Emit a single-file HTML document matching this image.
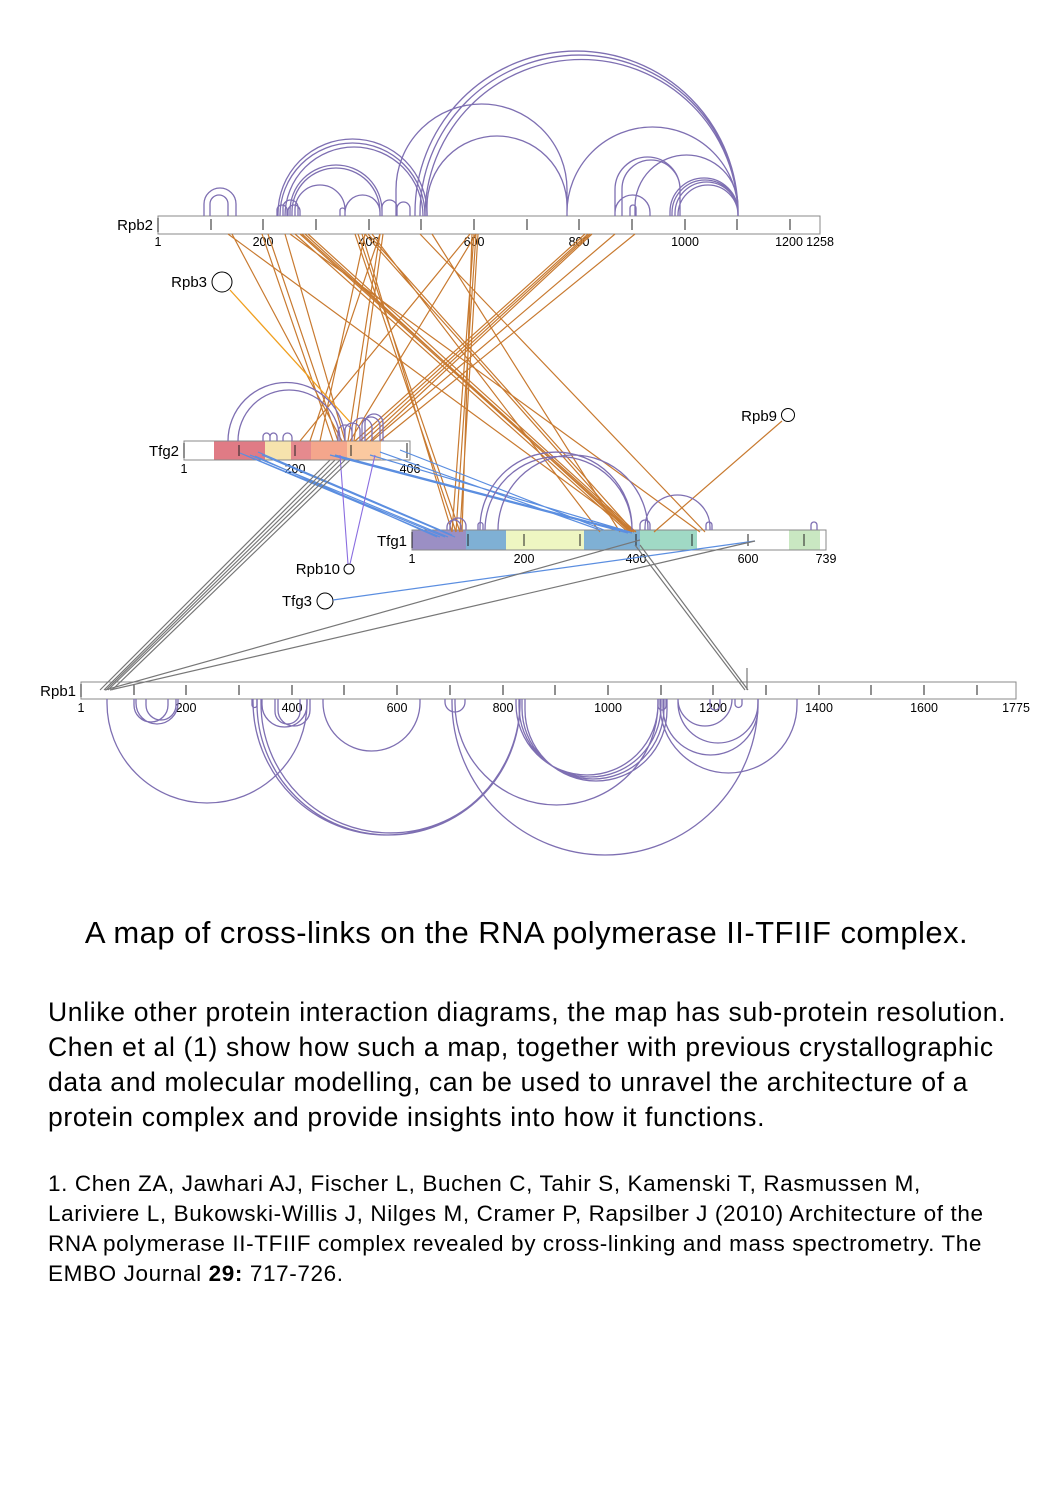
<!DOCTYPE html>
<html><head><meta charset="utf-8"><style>
html,body{margin:0;padding:0;background:#fff}
body{width:1053px;height:1489px;position:relative;font-family:"Liberation Sans",sans-serif;overflow:hidden}
svg{position:absolute;left:0;top:0}
.t{position:absolute;white-space:nowrap;color:#000}
</style></head><body>
<svg width="1053" height="900" viewBox="0 0 1053 900" font-family="Liberation Sans, sans-serif">
<rect x="158" y="216" width="662" height="18" fill="#fff" stroke="#888"/>
<rect x="214" y="441" width="51" height="19" fill="#e07b85"/>
<rect x="265" y="441" width="26" height="19" fill="#f6e3ad"/>
<rect x="291" y="441" width="20" height="19" fill="#e58a8e"/>
<rect x="311" y="441" width="36" height="19" fill="#f4a68c"/>
<rect x="347" y="441" width="34" height="19" fill="#fbc9a0"/>
<rect x="184" y="441" width="226" height="19" fill="none" stroke="#888"/>
<rect x="412" y="530" width="54" height="20" fill="#9b8fc4"/>
<rect x="466" y="530" width="40" height="20" fill="#7fb0d4"/>
<rect x="506" y="530" width="78" height="20" fill="#eef6c2"/>
<rect x="584" y="530" width="56" height="20" fill="#7fb0d4"/>
<rect x="640" y="530" width="57" height="20" fill="#a0d9c5"/>
<rect x="789" y="530" width="31" height="20" fill="#c9e8c2"/>
<rect x="412" y="530" width="414" height="20" fill="none" stroke="#888"/>
<rect x="81" y="682" width="935" height="17" fill="#fff" stroke="#888"/>
<g stroke="#222" stroke-width="1">
<path d="M158 218V232M211 219V230M263 219V230M316 219V230M369 219V230M421 219V230M474 219V230M527 219V230M579 219V230M632 219V230M685 219V230M737 219V230M790 219V230"/>
<path d="M184 443V458M239 445V456M295 445V456M351 445V456M407 443V458"/>
<path d="M412 532V548M468 534V546M524 534V546M580 534V546M636 534V546M692 534V546M748 534V546M804 534V546"/>
<path d="M81 684V697M134 685V695M186 685V695M239 685V695M292 685V695M344 685V695M397 685V695M450 685V695M503 685V695M555 685V695M608 685V695M661 685V695M713 685V695M766 685V695M819 685V695M871 685V695M924 685V695M977 685V695"/>
</g>
<g font-size="12.5" fill="#000" text-anchor="middle">
<text x="158" y="246">1</text><text x="263" y="246">200</text><text x="369" y="246">400</text><text x="474" y="246">600</text><text x="579" y="246">800</text><text x="685" y="246">1000</text><text x="789" y="246">1200</text><text x="820" y="246">1258</text>
<text x="184" y="473">1</text><text x="295" y="473">200</text><text x="410" y="473">406</text>
<text x="412" y="563">1</text><text x="524" y="563">200</text><text x="636" y="563">400</text><text x="748" y="563">600</text><text x="826" y="563">739</text>
<text x="81" y="712">1</text><text x="186" y="712">200</text><text x="292" y="712">400</text><text x="397" y="712">600</text><text x="503" y="712">800</text><text x="608" y="712">1000</text><text x="713" y="712">1200</text><text x="819" y="712">1400</text><text x="924" y="712">1600</text><text x="1016" y="712">1775</text>
</g>
<g font-size="15" fill="#000" text-anchor="end">
<text x="153" y="230">Rpb2</text><text x="179" y="456">Tfg2</text><text x="407" y="546">Tfg1</text><text x="76" y="696">Rpb1</text>
<text x="207" y="287">Rpb3</text><text x="777" y="421">Rpb9</text><text x="340" y="574">Rpb10</text><text x="312" y="606">Tfg3</text>
</g>
<g fill="#fff" stroke="#000">
<circle cx="222" cy="282" r="10"/><circle cx="788" cy="415" r="6.5"/><circle cx="349" cy="569" r="5"/><circle cx="325" cy="601" r="8"/>
</g>
<g stroke="#c87a30" stroke-width="1.2" fill="none">
<path d="M228 234L634 532M232 234L342 441M262 234L333 441M268 234L338 441M285 234L345 441"/>
<path d="M295 234L628 532M300 234L632 532M302 234L634 532M305 234L630 532M308 234L636 532M290 234L700 532"/>
<path d="M355 234L456 532M358 234L460 532M362 234L452 532M365 234L630 532M368 234L634 532M372 234L600 532"/>
<path d="M380 234L348 441M383 234L354 441M420 234L705 532M432 234L620 532"/>
<path d="M474 234L452 532M476 234L456 532M478 234L460 532M472 234L462 532M476 234L350 441M470 234L300 441"/>
<path d="M585 234L355 441M588 234L360 441M590 234L365 441M592 234L370 441M615 234L372 441M635 234L380 441"/>
<path d="M380 234L310 441M365 234L320 441"/>
<path d="M782 421L654 532"/>
</g>
<path d="M230 290L350 422" stroke="#f0a020" stroke-width="1.3"/>
<g stroke="#5b8ee0" stroke-width="1.2" fill="none">
<path d="M240 453L440 537M245 455L445 537M250 455L448 537M258 452L452 535M262 455L455 537M255 456L437 537"/>
<path d="M330 455L628 533M335 455L632 533M370 455L630 532M400 450L604 530M380 452L600 530"/>
<path d="M333 600L755 541"/>
</g>
<g stroke="#8a6de0" stroke-width="1.1" fill="none"><path d="M340 455L348 564M375 455L350 564"/></g>
<g stroke="#777" stroke-width="1.2" fill="none">
<path d="M330 460L100 690M335 460L104 690M340 460L106 690M345 460L108 690M350 460L112 690"/>
<path d="M640 540L105 690M755 541L110 690M635 545L745 690M640 545L748 690M747 668V690"/>
</g>
<g stroke="#7e6fb2" stroke-width="1.3" fill="none">
<path d="M204 216V204A16 16 0 0 1 236 204V216M210 216V204A9 9 0 0 1 228 204V216M277 216V210A5 5 0 0 1 287 210V216M283 216V207.5A7.5 7.5 0 0 1 298 207.5V216M288 216V211A6 6 0 0 1 300 211V216"/>
<path d="M278 216V213.5A74.5 74.5 0 0 1 427 213.5V216M280 216V215.5A72.5 72.5 0 0 1 425 215.5V216M285 216A69 69 0 0 1 423 216M290 216V211A46 46 0 0 1 382 211V216M292 216V212A44 44 0 0 1 380 212V216M295 216V210A25 25 0 0 1 345 210V216M345 216V212.5A17.5 17.5 0 0 1 380 212.5V216M340 216V210.5A2.5 2.5 0 0 1 345 210.5V216M382 216V207.5A7.5 7.5 0 0 1 397 207.5V216M397 216V208.5A6.5 6.5 0 0 1 410 208.5V216"/>
<path d="M396 216V189.5A85.5 85.5 0 0 1 567 189.5V216M415 216V212.5A161.5 161.5 0 0 1 738 212.5V216M420 216V214A159 159 0 0 1 738 214V216M425 216A156.5 156.5 0 0 1 738 216M427 216V206A70 70 0 0 1 567 206V216M567 216V212.5A85.5 85.5 0 0 1 738 212.5V216"/>
<path d="M615 216V189.5A32.5 32.5 0 0 1 680 189.5V216M622 216V189A29 29 0 0 1 680 189V216M635 216V206.5A51.5 51.5 0 0 1 738 206.5V216M615 216V212.5A17.5 17.5 0 0 1 650 212.5V216M630 216V208A3 3 0 0 1 636 208V216M670 216V212A34 34 0 0 1 738 212V216M672 216V213A33 33 0 0 1 738 213V216M675 216V213.5A31.5 31.5 0 0 1 738 213.5V216M678 216V215A30 30 0 0 1 738 215V216"/>
<path d="M228 441A58.5 58.5 0 0 1 345 441M238 441A51 51 0 0 1 340 441M263 441V436.5A3.5 3.5 0 0 1 270 436.5V441M270 441V436.5A3.5 3.5 0 0 1 277 436.5V441M283 441V437.5A4.5 4.5 0 0 1 292 437.5V441M345 441V430.5A7.5 7.5 0 0 1 360 430.5V441M352 441V428A10 10 0 0 1 372 428V441M362 441V426A9 9 0 0 1 380 426V441M365 441V423A9 9 0 0 1 383 423V441M338 441V432A7 7 0 0 1 352 432V441"/>
<path d="M447 530V527A7 7 0 0 1 461 527V530M450 530V526A8 8 0 0 1 466 526V530M480 530V528A76 76 0 0 1 632 528V530M485 530A73.5 73.5 0 0 1 632 530M498 530A75 75 0 0 1 648 530M645 530V527.5A32.5 32.5 0 0 1 710 527.5V530M640 530V525A5 5 0 0 1 650 525V530M706 530V525A3 3 0 0 1 712 525V530M811 530V525A3 3 0 0 1 817 525V530M478 530V525A2.5 2.5 0 0 1 483 525V530"/>
<path d="M107 699V703A100 100 0 0 0 307 703V699M134 699V705A17 17 0 0 0 168 705V699M146 699V705A15 15 0 0 0 176 705V699M136 699V703A21 21 0 0 0 178 703V699M252 699V705A2.5 2.5 0 0 0 257 705V699"/>
<path d="M253 699V701.5A133.5 133.5 0 0 0 520 701.5V699M257 699V703.5A131.5 131.5 0 0 0 520 703.5V699M261 699V703.5A129.5 129.5 0 0 0 520 703.5V699M262 699V704.5A22.5 22.5 0 0 0 307 704.5V699M275 699V711.5A12.5 12.5 0 0 0 300 711.5V699M278 699V710A16 16 0 0 0 310 710V699M323 699V702.5A48.5 48.5 0 0 0 420 702.5V699M445 699V702A10 10 0 0 0 465 702V699"/>
<path d="M452 699V702A153 153 0 0 0 758 702V699M455 699V703.5A101.5 101.5 0 0 0 658 703.5V699M516 699V704A71 71 0 0 0 658 704V699M519 699V706A71 71 0 0 0 661 706V699M522 699V708A71 71 0 0 0 664 708V699M525 699V710A71 71 0 0 0 667 710V699"/>
<path d="M678 699A27 27 0 0 0 732 699M678 699V703A40 40 0 0 0 758 703V699M663 699V707.5A47.5 47.5 0 0 0 758 707.5V699M660 699V704.5A68.5 68.5 0 0 0 797 704.5V699M710 699V705A5 5 0 0 0 720 705V699M735 699V704A3.5 3.5 0 0 0 742 704V699M658 699V706A4 4 0 0 0 666 706V699"/>
</g>
</svg>
<div class="t" style="left:0;width:1053px;text-align:center;top:915px;font-size:31px;letter-spacing:0.45px">A map of cross-links on the RNA polymerase II-TFIIF complex.</div>
<div class="t" style="left:48px;top:995px;font-size:26.5px;line-height:35px;letter-spacing:0.67px">Unlike other protein interaction diagrams, the map has sub-protein resolution.<br>Chen et al (1) show how such a map, together with previous crystallographic<br>data and molecular modelling, can be used to unravel the architecture of a<br>protein complex and provide insights into how it functions.</div>
<div class="t" style="left:48px;top:1169px;font-size:22.5px;line-height:30px;letter-spacing:0.62px">1. Chen ZA, Jawhari AJ, Fischer L, Buchen C, Tahir S, Kamenski T, Rasmussen M,<br>Lariviere L, Bukowski-Willis J, Nilges M, Cramer P, Rapsilber J (2010) Architecture of the<br>RNA polymerase II-TFIIF complex revealed by cross-linking and mass spectrometry. The<br>EMBO Journal <b>29:</b> 717-726.</div>
</body></html>
